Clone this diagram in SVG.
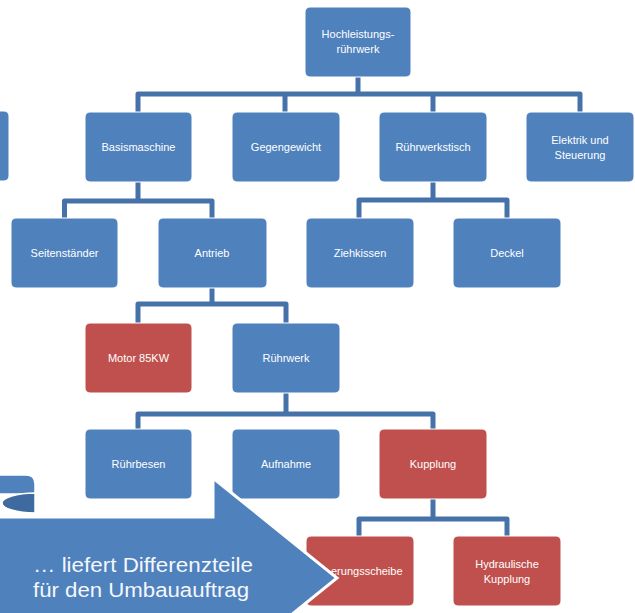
<svg xmlns="http://www.w3.org/2000/svg" width="635" height="613" viewBox="0 0 635 613">
<style>
.b{fill:#4f81bd;stroke:#ffffff;stroke-width:1}
.r{fill:#c0504d;stroke:#ffffff;stroke-width:1}
.t{font-family:"Liberation Sans",Arial,sans-serif;font-size:11px;fill:#ffffff;text-anchor:middle}
.c{fill:none;stroke:#4672aa;stroke-width:5;stroke-linejoin:round}
.at{font-family:"Liberation Sans",Arial,sans-serif;font-size:20px;fill:#f4f7fb}
</style>
<rect width="635" height="613" fill="#ffffff"/>
<g id="connectors">
<path class="c" d="M358,77V94M138,112V94H580V112M285,94V112M433,94V112"/>
<path class="c" d="M138,182V201M64.5,218V201H212V218"/>
<path class="c" d="M433,182V200M359,218V200H507V218"/>
<path class="c" d="M212,288V304M138,323V304H286V323"/>
<path class="c" d="M286,393V414M138,429V414H433V429"/>
<path class="c" d="M433,499V519M359,536V519H507V536"/>
</g>
<g id="n0"><rect class="b" x="305" y="7" width="106" height="70" rx="5"/><text class="t" x="358" y="38">Hochleistungs-</text><text class="t" x="358" y="53">rührwerk</text></g>
<g id="n1"><rect class="b" x="-100" y="111" width="109" height="70" rx="5"/></g>
<g id="n2"><rect class="b" x="85" y="112" width="107" height="70" rx="5"/><text class="t" x="138.5" y="151">Basismaschine</text></g>
<g id="n3"><rect class="b" x="232" y="112" width="108" height="70" rx="5"/><text class="t" x="286" y="151">Gegengewicht</text></g>
<g id="n4"><rect class="b" x="379" y="112" width="108" height="70" rx="5"/><text class="t" x="433" y="151">Rührwerkstisch</text></g>
<g id="n5"><rect class="b" x="526" y="112" width="108" height="70" rx="5"/><text class="t" x="580" y="144">Elektrik und</text><text class="t" x="580" y="159">Steuerung</text></g>
<g id="n6"><rect class="b" x="11" y="218" width="107" height="70" rx="5"/><text class="t" x="64.5" y="257">Seitenständer</text></g>
<g id="n7"><rect class="b" x="158" y="218" width="109" height="70" rx="5"/><text class="t" x="212" y="257">Antrieb</text></g>
<g id="n8"><rect class="b" x="306" y="218" width="108" height="70" rx="5"/><text class="t" x="360" y="257">Ziehkissen</text></g>
<g id="n9"><rect class="b" x="453" y="218" width="108" height="70" rx="5"/><text class="t" x="507" y="257">Deckel</text></g>
<g id="n10"><rect class="r" x="85" y="323" width="107" height="70" rx="5"/><text class="t" x="138.5" y="362">Motor 85KW</text></g>
<g id="n11"><rect class="b" x="232" y="323" width="108" height="70" rx="5"/><text class="t" x="286" y="362">Rührwerk</text></g>
<g id="n12"><rect class="b" x="85" y="429" width="107" height="70" rx="5"/><text class="t" x="138.5" y="468">Rührbesen</text></g>
<g id="n13"><rect class="b" x="232" y="429" width="108" height="70" rx="5"/><text class="t" x="286" y="468">Aufnahme</text></g>
<g id="n14"><rect class="r" x="379" y="429" width="108" height="70" rx="5"/><text class="t" x="433" y="468">Kupplung</text></g>
<g id="n15"><rect class="r" x="306" y="536" width="108" height="70" rx="5"/><text class="t" x="331" y="575" style="text-anchor:start">erungsscheibe</text></g>
<g id="n16"><rect class="r" x="453" y="536" width="108" height="70" rx="5"/><text class="t" x="507" y="568">Hydraulische</text><text class="t" x="507" y="583">Kupplung</text></g>
<g id="callout">
<path d="M-10,517H213V478L337,578L213,678V660H-10Z" fill="#4f81bd" stroke="#ffffff" stroke-width="3" stroke-linejoin="miter"/>
<path d="M-10,475H26Q35,475 35,484V494L2,494Q-10,494 -10,500Z" fill="#4f81bd" stroke="#ffffff" stroke-width="1.5"/>
<path d="M35,493A33,10 0 0 0 35,513Z" fill="#3f6a9f" stroke="#ffffff" stroke-width="1.5"/>
<text class="at" x="33" y="572" textLength="220" lengthAdjust="spacingAndGlyphs">… liefert Differenzteile</text>
<text class="at" x="33" y="597" textLength="216" lengthAdjust="spacingAndGlyphs">für den Umbauauftrag</text>
</g>
</svg>
